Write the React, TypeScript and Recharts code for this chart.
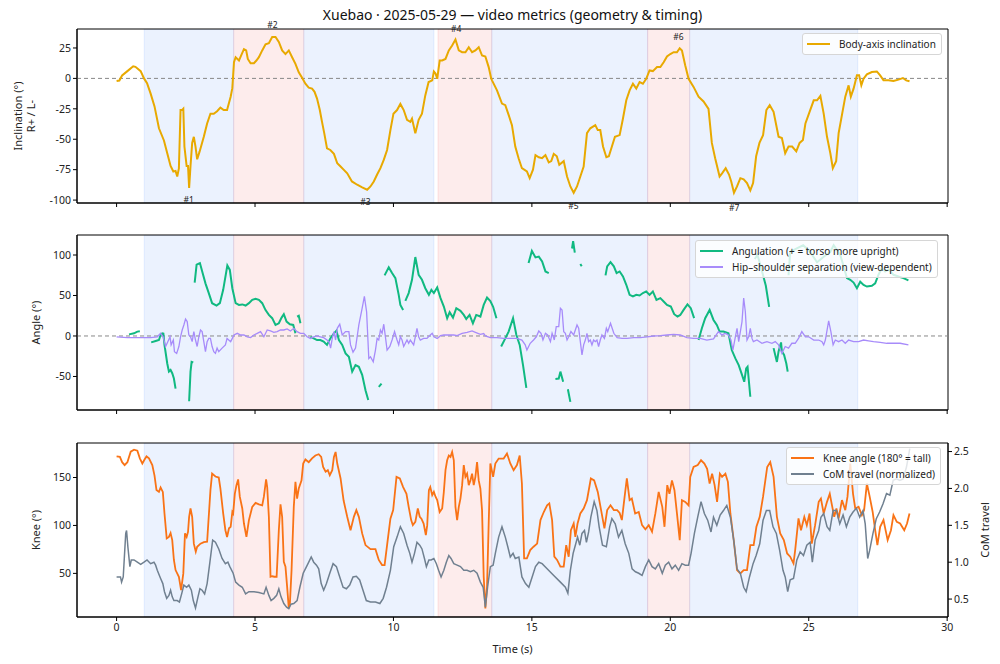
import React from 'react';
import { LineChart, Line, XAxis, YAxis, ReferenceArea, ReferenceLine, ReferenceDot, Label } from 'recharts';

type Pt = [number, number | null];

// Body-axis inclination (deg), [time s, value]
const inclination: Pt[] = [
  [0, -2.2], [0.1, -1.8], [0.2, 2.5], [0.39, 6], [0.6, 10], [0.68, 9.5], [0.87, 6], [0.99, 0], [1.1, -4], [1.23, -12.5],
  [1.37, -23], [1.53, -41], [1.71, -51], [1.83, -61.5], [1.95, -72], [2.05, -76.5], [2.13, -76], [2.19, -80.6], [2.25, -74],
  [2.31, -26], [2.37, -26], [2.41, -25], [2.45, -56], [2.53, -72], [2.58, -72], [2.62, -90], [2.67, -72], [2.73, -53],
  [2.79, -48], [2.85, -56], [2.91, -66.5], [3.0, -60], [3.15, -48], [3.27, -37], [3.39, -29], [3.51, -29], [3.63, -27],
  [3.75, -24], [3.87, -26], [3.99, -26], [4.12, -15], [4.18, -8], [4.24, 13.3], [4.3, 17.4], [4.42, 14.7], [4.5, 19],
  [4.6, 24], [4.68, 23], [4.74, 16], [4.84, 12.5], [4.96, 12.5], [5.05, 14.7], [5.14, 17.4], [5.26, 23], [5.38, 28],
  [5.5, 29], [5.62, 34], [5.74, 34], [5.86, 30], [5.98, 23], [6.1, 20], [6.22, 23], [6.34, 17.4], [6.46, 12], [6.58, 5],
  [6.7, 0.5], [6.82, -4.4], [6.94, -7.6], [7.06, -8.4], [7.15, -11], [7.24, -16.6], [7.34, -26], [7.42, -35.7], [7.5, -45],
  [7.6, -57.5], [7.72, -58.8], [7.85, -62], [7.97, -69.7], [8.09, -72.4], [8.2, -75], [8.33, -78], [8.5, -84.7],
  [8.69, -87.4], [8.87, -89.6], [9.05, -91.5], [9.17, -88.8], [9.29, -84.7], [9.41, -79], [9.53, -73.8], [9.65, -67],
  [9.77, -58.8], [9.89, -42.5], [10.0, -29], [10.13, -26], [10.25, -21], [10.37, -26], [10.49, -34], [10.61, -35.7],
  [10.67, -33], [10.79, -45], [10.91, -34], [11.03, -29], [11.15, -14], [11.27, -3], [11.4, -1.6], [11.46, 5.7],
  [11.52, 4], [11.58, -0.3], [11.67, 14.7], [11.76, 14.7], [11.88, 16], [12.0, 23], [12.12, 27], [12.24, 32], [12.36, 23],
  [12.48, 21.5], [12.6, 21.5], [12.72, 25.6], [12.84, 21.5], [12.96, 23], [13.08, 25.6], [13.2, 18.8], [13.32, 18],
  [13.44, 9.3], [13.53, 0], [13.56, -1.6], [13.74, -9.8], [13.92, -20.7], [14.04, -22], [14.16, -30], [14.28, -38.4],
  [14.4, -56], [14.52, -65.6], [14.64, -73.8], [14.82, -76.5], [14.92, -82], [15.04, -75], [15.13, -63], [15.25, -64.8],
  [15.37, -65.5], [15.49, -63], [15.61, -69], [15.7, -68], [15.79, -62], [15.9, -64], [15.99, -71], [16.15, -68],
  [16.27, -80.6], [16.39, -88.8], [16.51, -94], [16.63, -88.8], [16.75, -80.6], [16.87, -72.4], [16.99, -45], [17.11, -41],
  [17.29, -38.4], [17.38, -42.5], [17.47, -42.5], [17.57, -56], [17.69, -64.8], [17.78, -64], [17.89, -56], [18.0, -48],
  [18.17, -46.6], [18.29, -33], [18.41, -18], [18.53, -9.8], [18.65, -4.4], [18.77, -8.4], [18.89, -3], [19.01, -4.4],
  [19.13, -0.3], [19.25, 6.5], [19.37, 6], [19.52, 9.3], [19.64, 9.3], [19.76, 13.3], [19.88, 18], [20.0, 20],
  [20.12, 21.5], [20.24, 21.5], [20.34, 24.8], [20.42, 23], [20.54, 10.6], [20.66, -0.3], [20.84, -7], [21.02, -15],
  [21.2, -19], [21.38, -25], [21.5, -53], [21.62, -65.6], [21.78, -80.6], [21.87, -78], [22.0, -73.8], [22.12, -79],
  [22.2, -84.7], [22.3, -94], [22.41, -88.8], [22.53, -82], [22.65, -83], [22.77, -86], [22.89, -92], [22.99, -86],
  [23.1, -64], [23.22, -53], [23.35, -46.6], [23.47, -26], [23.59, -22], [23.73, -27.5], [23.91, -48], [24.03, -49],
  [24.15, -61.5], [24.27, -56], [24.4, -56], [24.55, -60], [24.67, -53], [24.79, -50.6], [24.88, -37], [25.03, -27.5],
  [25.18, -18], [25.3, -18], [25.42, -14.4], [25.54, -29], [25.66, -48], [25.78, -61.5], [25.87, -73.8], [25.99, -68],
  [26.08, -45], [26.2, -30], [26.32, -15], [26.44, -5.7], [26.52, -15], [26.62, -8.4], [26.74, 2.5], [26.82, 2.5],
  [26.9, -5.7], [26.98, -0.3], [27.1, 3.3], [27.28, 5.2], [27.46, 5.7], [27.58, 2.5], [27.7, -1.6], [27.88, -1.6],
  [28.06, -2.2], [28.24, -1], [28.4, 0.3], [28.52, -1.6], [28.64, -2.4],
];

// Angulation (deg); null = no detection
const angulation: Pt[] = [
  [0.45, 2], [0.63, 3.3], [0.75, 5.4], [0.84, 5.8], [0.9, null],
  [1.25, -7.9], [1.41, -6.2], [1.53, -5], [1.59, 1.2], [1.65, 3.3], [1.69, 3], [1.73, -11], [1.83, -34], [1.89, -44],
  [1.95, -42], [2.01, -46], [2.07, -52.5], [2.13, -65], [2.3, null],
  [2.62, -80.6], [2.67, -44], [2.71, -32], [2.77, -32.6], [2.8, null],
  [2.82, 66], [2.89, 88], [3.01, 90], [3.09, 80], [3.21, 65], [3.33, 53], [3.45, 40.5], [3.61, 37.6], [3.73, 40.5],
  [3.85, 57], [4.0, 87], [4.09, 81.6], [4.18, 59], [4.3, 40.5], [4.42, 38.4], [4.54, 39], [4.66, 37.6], [4.78, 40.5],
  [4.9, 44.6], [5.02, 46], [5.14, 44.6], [5.26, 40.5], [5.38, 32], [5.5, 26], [5.62, 22], [5.74, 13.6], [5.86, 15.7],
  [5.96, 22.7], [6.04, 26.9], [6.14, 17.8], [6.26, 14.5], [6.38, 13.6], [6.46, 3.3], [6.49, null],
  [6.52, 24], [6.58, 25], [6.64, 15.7], [6.8, null],
  [7.0, -1], [7.12, -3], [7.24, -5], [7.36, -5], [7.48, -7], [7.6, -11], [7.72, -3], [7.85, 3.3], [7.94, 6.6], [8.03, -5],
  [8.15, -11], [8.27, -21.5], [8.39, -25.6], [8.51, -44], [8.63, -36], [8.75, -38], [8.87, -48], [8.99, -67], [9.09, -79],
  [9.3, null],
  [9.47, -62.8], [9.57, -58.7], [9.62, null],
  [9.68, 74.8], [9.83, 84.7], [9.95, 77.7], [10.07, 71.5], [10.19, 50.8], [10.25, 38.4], [10.35, 32.2], [10.39, null],
  [10.43, 43.4], [10.55, 53], [10.67, 69.4], [10.79, 97.5], [10.91, 75.6], [11.03, 69.4], [11.15, 59], [11.28, 50.8],
  [11.37, 57], [11.46, 53], [11.58, 60], [11.7, 46.7], [11.82, 36.4], [11.94, 21.9], [12.03, 29.3], [12.15, 22.7],
  [12.27, 34.3], [12.42, 31], [12.54, 26], [12.63, 21], [12.75, 26], [12.87, 15.7], [12.99, 26], [13.14, 24],
  [13.26, 38.4], [13.38, 47.5], [13.5, 43], [13.6, 36], [13.72, 22], [13.8, null],
  [13.89, -13], [14.04, -3], [14.16, 5.4], [14.32, 22], [14.44, 1.2], [14.56, -11], [14.68, -36], [14.8, -64], [14.84, null],
  [14.88, 90], [15.0, 105], [15.13, 97], [15.25, 98], [15.37, 92], [15.49, 79.7], [15.61, 77.7], [15.7, null],
  [15.85, -53], [15.97, -52.5], [16.03, -44], [16.13, -56.6], [16.2, null],
  [16.3, -65.7], [16.39, -81.4], [16.42, null],
  [16.45, 108], [16.49, 117], [16.55, 103], [16.6, null],
  [16.75, 89], [16.8, 86], [16.85, null],
  [17.66, 74.8], [17.72, 86], [17.84, 91.3], [17.96, 86], [18.06, 77.7], [18.17, 79.7], [18.29, 73.5], [18.41, 63.2],
  [18.53, 50.8], [18.65, 48.8], [18.77, 50.8], [18.89, 50], [19.01, 53], [19.13, 55], [19.25, 50.8], [19.37, 55],
  [19.5, 44.6], [19.64, 46.7], [19.76, 42.6], [19.88, 38.4], [20.02, 36.4], [20.14, 26.9], [20.26, 24], [20.36, 26],
  [20.48, 32.2], [20.62, 39], [20.74, 34.3], [20.86, 22], [20.94, null],
  [21.02, -5], [21.14, 9.5], [21.26, 22], [21.42, 32.2], [21.56, 19.8], [21.68, 13.6], [21.78, 5.4], [21.92, 5.4],
  [22.1, 3.3], [22.22, -17.4], [22.35, -27.7], [22.47, -36], [22.59, -48], [22.67, -56.6], [22.74, -40], [22.79, -38],
  [22.89, -75], [22.97, null],
  [23.05, 95], [23.15, 100], [23.25, 88], [23.35, 75], [23.45, 62], [23.57, 36], [23.65, null],
  [23.73, -15], [23.85, -32], [23.91, -19], [24.0, -8], [24.03, -19], [24.11, -23.5], [24.19, -34], [24.24, -44], [24.255, null],
  [24.27, 75], [24.33, 104], [24.55, 108], [24.8, 112], [25.05, 104], [25.3, 91], [25.53, 97.5], [25.78, 104], [25.9, 112],
  [26.14, 100], [26.38, 71.5], [26.5, 69.4], [26.62, 66], [26.74, 59], [26.86, 67], [26.98, 63], [27.1, 61], [27.28, 62],
  [27.4, 65], [27.52, 75.6], [27.64, 84], [27.76, 79.7], [27.88, 82], [28.06, 75.6], [28.24, 73.5], [28.42, 71.5], [28.6, 68.6],
];

// Hip-shoulder separation (deg)
const hipShoulder: Pt[] = [
  [0, -1], [0.39, -2], [0.87, -2], [1.23, -2], [1.47, -1], [1.59, 3.3], [1.68, -1], [1.77, -13], [1.85, -7], [1.93, -1],
  [1.97, -11], [2.05, -5], [2.09, -19.4], [2.17, -21.5], [2.25, -13], [2.31, -1], [2.37, 7.4], [2.43, 13.6], [2.49, 21],
  [2.55, 17.8], [2.61, 1.2], [2.67, -1], [2.73, -7], [2.79, 5.4], [2.85, -5], [2.91, -13], [2.97, -1], [3.03, 7.4],
  [3.09, 5.4], [3.15, -7], [3.21, -19.4], [3.27, -7], [3.33, -3], [3.39, -3], [3.45, -13], [3.51, -19.4], [3.57, -21.5],
  [3.63, -15], [3.69, -19.4], [3.81, -15], [3.93, -11], [3.99, -3], [4.12, -7], [4.18, -3], [4.24, 1.2], [4.36, 3.3],
  [4.48, 1.2], [4.6, 1.2], [4.72, -1], [4.84, -2], [4.96, 1.2], [5.08, 3.3], [5.2, 5.4], [5.32, -1], [5.44, 7.4],
  [5.56, 6.2], [5.68, 4.5], [5.8, 5.4], [5.92, 7.4], [6.04, 7.4], [6.16, 8.7], [6.28, 6.2], [6.4, 9.5], [6.52, 5.4],
  [6.64, 3.3], [6.76, 3.3], [6.88, -1], [7.0, -3], [7.12, -1], [7.24, 0], [7.36, -1], [7.48, -2], [7.6, -5], [7.67, -7],
  [7.73, -15], [7.79, -3], [7.85, 5.4], [7.91, -5], [7.97, 9.5], [8.06, 14.5], [8.15, 1.2], [8.27, 5.4], [8.39, 5.4],
  [8.45, -11], [8.54, -20], [8.63, -15], [8.75, 13.6], [8.87, 34.3], [8.95, 48.8], [9.03, 30], [9.11, -27.7],
  [9.17, -25.6], [9.27, -31.8], [9.35, -17.4], [9.41, -3], [9.47, -5], [9.53, 7.4], [9.59, 3.3], [9.65, 14.5],
  [9.71, -1], [9.77, -17.4], [9.87, -13], [9.95, -5], [10.04, 5.4], [10.13, -5], [10.19, -11], [10.25, -1], [10.31, -5],
  [10.37, -13], [10.49, -5], [10.55, -9], [10.61, -5], [10.73, -11], [10.79, -1], [10.85, 9.5], [10.91, -1], [10.97, -5],
  [11.09, -3], [11.21, -3], [11.33, 1.2], [11.4, 3.3], [11.46, -1], [11.58, -3], [11.7, 0.4], [11.82, 1.2], [12.0, 1.2],
  [12.18, 1.2], [12.3, 0.4], [12.48, 3.3], [12.66, 4.5], [12.84, 6.2], [12.96, 4.5], [13.14, 2], [13.26, 3], [13.32, 0],
  [13.5, -2], [13.74, -2], [13.98, -3], [14.22, -3], [14.46, -3], [14.64, -5], [14.76, -11], [14.82, -17.4], [14.94, -9],
  [15.06, -5], [15.16, -1], [15.25, 6.2], [15.33, 3.3], [15.4, -5], [15.49, 3.3], [15.57, 1.2], [15.67, -7], [15.73, 3.3],
  [15.81, -5], [15.88, 11.6], [15.97, 11.6], [16.03, 34.3], [16.09, 32], [16.15, 5.4], [16.21, 3.3], [16.27, -5],
  [16.33, -1], [16.41, 5.4], [16.51, 1.2], [16.63, 13.6], [16.69, 9.5], [16.75, -7], [16.81, -23.5], [16.87, -11],
  [16.93, -5], [16.99, 3.3], [17.05, -7], [17.11, -5], [17.17, -11], [17.23, -5], [17.29, -7], [17.35, -5], [17.41, -13],
  [17.47, -5], [17.53, 1.2], [17.62, -3], [17.69, 9.5], [17.74, 5.4], [17.84, 15.7], [17.9, 9.5], [17.96, 3.3],
  [18.08, -2], [18.26, -3], [18.44, -3], [18.68, -2], [18.92, -2], [19.16, -1], [19.4, 0], [19.64, 0.4], [19.88, 1.2],
  [20.12, 2], [20.36, 1.2], [20.6, -2], [20.84, -3], [21.08, -3], [21.32, -5], [21.56, -3.7], [21.74, 5.4], [21.86, 1.2],
  [21.98, 3.3], [22.1, 1.2], [22.19, -5], [22.26, -17.4], [22.35, -1], [22.41, 9.5], [22.47, -7], [22.53, 5.4],
  [22.59, 17.8], [22.65, 46.7], [22.71, 30], [22.77, -5], [22.83, -1], [22.89, 9.5], [22.95, -3], [23.0, -7], [23.13, -5],
  [23.31, -9], [23.49, -7], [23.67, -9], [23.79, -7], [23.91, -11], [24.03, -21.5], [24.15, -13], [24.27, -15],
  [24.39, -9], [24.51, -9], [24.63, -3], [24.75, 5.4], [24.88, -1], [25.0, -1], [25.18, -5], [25.36, -5], [25.48, -7],
  [25.54, -11], [25.6, -5], [25.72, 18.6], [25.8, 5.4], [25.88, -11], [25.96, -5], [26.08, -7], [26.2, -5], [26.32, -9],
  [26.44, -5], [26.62, -7], [26.8, -7], [26.98, -5], [27.16, -6], [27.34, -7], [27.58, -7.8], [27.82, -9], [28.06, -9],
  [28.3, -9], [28.6, -11],
];

// Knee angle (deg)
const knee: Pt[] = [
  [0, 172], [0.12, 171.5], [0.2, 166], [0.29, 163], [0.39, 166], [0.51, 177], [0.63, 179], [0.75, 178], [0.84, 170],
  [0.93, 164.6], [1.01, 168.8], [1.08, 172], [1.17, 170], [1.29, 163], [1.37, 152], [1.44, 137], [1.53, 135],
  [1.59, 139.6], [1.67, 135], [1.73, 112.5], [1.81, 86.5], [1.89, 88], [1.95, 92], [2.01, 84.7], [2.07, 64], [2.13, 53.5],
  [2.25, 46.5], [2.33, 32.6], [2.41, 50], [2.47, 91.7], [2.53, 88], [2.58, 93.4], [2.62, 109], [2.67, 117.7], [2.73, 109],
  [2.79, 81], [2.86, 72.6], [2.91, 77.8], [3.03, 81], [3.15, 82.6], [3.27, 83], [3.39, 136.8], [3.45, 154], [3.57, 151],
  [3.69, 150], [3.75, 138.5], [3.85, 112.5], [3.93, 95], [3.99, 88], [4.06, 97], [4.12, 98.6], [4.18, 114], [4.21, 112.5],
  [4.27, 133], [4.33, 142], [4.39, 148], [4.45, 130], [4.54, 117.7], [4.6, 102], [4.69, 88], [4.78, 105.6], [4.9, 119.4],
  [5.02, 123.6], [5.14, 122], [5.26, 121], [5.32, 130], [5.4, 148], [5.44, 140], [5.5, 109], [5.56, 46.5], [5.62, 47],
  [5.7, 46.5], [5.78, 46.5], [5.86, 95], [5.92, 122], [5.98, 109], [6.04, 62], [6.1, 57], [6.16, 36], [6.22, 13.5],
  [6.26, 18.8], [6.32, 53.5], [6.4, 119.4], [6.46, 145.5], [6.52, 128], [6.58, 138.5], [6.68, 147], [6.74, 164.6],
  [6.82, 168.8], [6.94, 166], [7.06, 170], [7.18, 173], [7.3, 174.3], [7.39, 171.5], [7.46, 161], [7.55, 156],
  [7.63, 157.6], [7.7, 152.4], [7.79, 157.6], [7.85, 171.5], [7.91, 176.7], [7.97, 164.6], [8.09, 149], [8.2, 126],
  [8.33, 109], [8.45, 95], [8.57, 109], [8.66, 116], [8.75, 109], [8.87, 91.7], [8.99, 79.5], [9.17, 75.3], [9.35, 75.3],
  [9.47, 64], [9.59, 58.7], [9.68, 58.7], [9.77, 79.5], [9.89, 107], [9.99, 116], [10.11, 150.7], [10.23, 149],
  [10.35, 140], [10.47, 133], [10.55, 119.4], [10.64, 105.6], [10.7, 100.3], [10.79, 103.8], [10.88, 117.7], [10.95, 109],
  [11.01, 107], [11.09, 102], [11.17, 90], [11.22, 100.3], [11.28, 136.8], [11.33, 140], [11.4, 131.6], [11.46, 135],
  [11.52, 130], [11.58, 126.4], [11.67, 114], [11.76, 117.7], [11.82, 135], [11.88, 157.6], [11.94, 168], [12.0, 173],
  [12.06, 171.5], [12.12, 176.7], [12.18, 168], [12.24, 119.4], [12.3, 105.6], [12.36, 119.4], [12.42, 128], [12.48, 142],
  [12.54, 163], [12.6, 150.7], [12.66, 154], [12.72, 142], [12.78, 147], [12.84, 154], [12.9, 142], [12.96, 150.7],
  [13.02, 166], [13.08, 147], [13.14, 138.5], [13.2, 116], [13.26, 46.5], [13.32, 13.5], [13.38, 36], [13.44, 102],
  [13.5, 164.6], [13.6, 150.7], [13.68, 164.6], [13.8, 169.8], [13.98, 169.8], [14.1, 175], [14.22, 164.6], [14.34, 157.6],
  [14.46, 163], [14.56, 173], [14.64, 143.7], [14.72, 65.6], [14.82, 65.6], [14.94, 74.3], [15.06, 77.8], [15.19, 81],
  [15.31, 105.6], [15.43, 114], [15.55, 121], [15.63, 123], [15.73, 105.6], [15.81, 67.4], [15.91, 64], [16.03, 57],
  [16.15, 57], [16.24, 79.5], [16.33, 67.4], [16.41, 95], [16.51, 102], [16.57, 88], [16.65, 102], [16.75, 112.5],
  [16.87, 117.7], [16.99, 126.4], [17.13, 149], [17.25, 147], [17.38, 135], [17.5, 116], [17.62, 97], [17.72, 116],
  [17.84, 121], [17.96, 116], [18.08, 116], [18.17, 113], [18.25, 105.6], [18.35, 130], [18.43, 149], [18.53, 126.4],
  [18.61, 128], [18.73, 112.5], [18.86, 114], [18.98, 100.3], [19.1, 96], [19.22, 100.3], [19.34, 93.4], [19.46, 112.5],
  [19.58, 135], [19.71, 119.4], [19.79, 98.6], [19.89, 142], [19.97, 133], [20.06, 147], [20.15, 136.8], [20.24, 112.5],
  [20.34, 84.7], [20.42, 126.4], [20.54, 124.6], [20.66, 121], [20.72, 150.7], [20.84, 161], [20.99, 163], [21.11, 168],
  [21.23, 164.6], [21.33, 159], [21.42, 143.7], [21.51, 154], [21.6, 142], [21.69, 124.6], [21.79, 154], [21.87, 150.7],
  [21.99, 154], [22.08, 145.5], [22.17, 112.5], [22.29, 84.7], [22.41, 53.5], [22.53, 50], [22.65, 53.5], [22.77, 53.5],
  [22.89, 79.5], [23.01, 79.5], [23.11, 98.6], [23.23, 109], [23.35, 130], [23.5, 161], [23.61, 166], [23.73, 150.7],
  [23.85, 109], [23.97, 91.7], [24.1, 84.7], [24.22, 70.8], [24.33, 67.4], [24.45, 60.4], [24.51, 74.3], [24.63, 107.3],
  [24.72, 95], [24.84, 109], [24.93, 100.3], [25.03, 112.5], [25.11, 81], [25.23, 100.3], [25.36, 124.6], [25.44, 128],
  [25.54, 112.5], [25.66, 124.6], [25.76, 133], [25.84, 121], [25.92, 109], [26.0, 117.7], [26.08, 107.3], [26.2, 126.4],
  [26.32, 116], [26.4, 130], [26.5, 164.6], [26.6, 133], [26.68, 117.7], [26.8, 119.4], [26.92, 110.8], [27.0, 116],
  [27.1, 143.7], [27.19, 131.6], [27.31, 114], [27.4, 95], [27.48, 79.5], [27.58, 98.6], [27.7, 105.6], [27.85, 84.7],
  [27.97, 95], [28.06, 110.8], [28.18, 103.8], [28.3, 102], [28.45, 95], [28.55, 102], [28.64, 112.5],
];

// Centre-of-mass travel (normalized)
const comTravel: Pt[] = [
  [0, 0.8], [0.14, 0.8], [0.18, 0.73], [0.24, 0.8], [0.33, 1.39], [0.36, 1.43], [0.41, 1.2], [0.48, 0.94], [0.53, 1.03],
  [0.63, 1.03], [0.75, 1.0], [0.87, 0.97], [0.99, 1.0], [1.1, 1.03], [1.23, 0.98], [1.35, 1.0], [1.41, 0.96], [1.47, 0.89],
  [1.59, 0.78], [1.67, 0.71], [1.73, 0.6], [1.81, 0.51], [1.89, 0.55], [1.95, 0.62], [2.01, 0.53], [2.07, 0.48],
  [2.19, 0.48], [2.27, 0.46], [2.35, 0.57], [2.43, 0.69], [2.53, 0.66], [2.61, 0.69], [2.7, 0.62], [2.77, 0.48],
  [2.85, 0.38], [2.94, 0.53], [3.01, 0.64], [3.09, 0.62], [3.18, 0.57], [3.27, 0.71], [3.37, 1.0], [3.47, 1.3],
  [3.57, 1.27], [3.69, 1.18], [3.81, 1.05], [3.93, 0.98], [4.02, 1.0], [4.09, 0.94], [4.21, 0.85], [4.3, 0.73],
  [4.42, 0.69], [4.54, 0.66], [4.66, 0.57], [4.78, 0.6], [4.96, 0.6], [5.14, 0.59], [5.32, 0.57], [5.4, 0.66], [5.5, 0.55],
  [5.58, 0.48], [5.68, 0.51], [5.78, 0.55], [5.86, 0.64], [5.94, 0.53], [6.04, 0.44], [6.14, 0.39], [6.22, 0.37],
  [6.3, 0.43], [6.4, 0.44], [6.52, 0.48], [6.62, 0.66], [6.74, 0.85], [6.86, 0.94], [6.94, 1.0], [7.03, 1.07], [7.12, 1.0],
  [7.22, 0.96], [7.3, 0.91], [7.39, 0.71], [7.48, 0.62], [7.58, 0.71], [7.7, 0.85], [7.82, 0.98], [7.94, 0.94], [8.06, 0.8],
  [8.18, 0.66], [8.3, 0.64], [8.42, 0.69], [8.54, 0.8], [8.66, 0.81], [8.78, 0.76], [8.9, 0.62], [9.02, 0.48], [9.17, 0.46],
  [9.35, 0.46], [9.51, 0.44], [9.63, 0.51], [9.75, 0.66], [9.89, 0.89], [10.01, 1.21], [10.13, 1.34], [10.25, 1.48],
  [10.37, 1.39], [10.49, 1.23], [10.59, 1.12], [10.67, 1.0], [10.76, 1.12], [10.85, 1.27], [10.95, 1.23], [11.03, 1.18],
  [11.12, 1.05], [11.19, 0.94], [11.28, 1.03], [11.36, 1.03], [11.46, 1.05], [11.55, 0.98], [11.63, 0.89], [11.72, 0.8],
  [11.82, 0.89], [11.91, 1.0], [12.0, 1.09], [12.08, 1.05], [12.18, 0.98], [12.3, 0.96], [12.42, 0.94], [12.54, 0.89],
  [12.66, 0.89], [12.78, 0.87], [12.9, 0.89], [13.02, 0.85], [13.14, 0.73], [13.24, 0.66], [13.32, 0.39], [13.4, 0.66],
  [13.5, 0.94], [13.6, 0.96], [13.68, 1.12], [13.8, 1.34], [13.92, 1.48], [14.04, 1.34], [14.13, 1.21], [14.22, 1.07],
  [14.32, 1.12], [14.4, 1.05], [14.53, 1.07], [14.64, 0.8], [14.77, 0.71], [14.89, 0.66], [15.01, 0.8], [15.13, 0.94],
  [15.25, 1.0], [15.37, 0.98], [15.55, 0.91], [15.79, 0.82], [16.03, 0.73], [16.21, 0.66], [16.3, 0.58], [16.39, 0.89],
  [16.49, 1.12], [16.57, 1.23], [16.65, 1.34], [16.73, 1.23], [16.81, 1.39], [16.9, 1.43], [16.97, 1.27], [17.05, 1.41],
  [17.13, 1.61], [17.25, 1.82], [17.35, 1.7], [17.43, 1.48], [17.55, 1.23], [17.69, 1.21], [17.81, 1.48], [17.89, 1.59],
  [18.01, 1.52], [18.13, 1.34], [18.25, 1.43], [18.37, 1.25], [18.5, 1.12], [18.62, 0.91], [18.74, 0.87], [18.86, 0.85],
  [18.98, 0.82], [19.1, 0.94], [19.22, 1.03], [19.34, 0.94], [19.46, 0.91], [19.58, 0.98], [19.71, 0.85], [19.82, 0.96],
  [19.94, 1.0], [20.06, 0.91], [20.18, 0.96], [20.3, 0.89], [20.42, 0.98], [20.54, 0.96], [20.66, 0.96], [20.75, 1.12],
  [20.87, 1.39], [20.99, 1.61], [21.11, 1.82], [21.23, 1.66], [21.35, 1.57], [21.47, 1.41], [21.56, 1.61], [21.68, 1.5],
  [21.8, 1.64], [21.92, 1.7], [22.04, 1.77], [22.17, 1.61], [22.29, 1.3], [22.41, 0.91], [22.53, 0.85], [22.65, 0.66],
  [22.74, 0.6], [22.86, 0.8], [22.99, 0.98], [23.1, 1.09], [23.23, 1.25], [23.35, 1.57], [23.47, 1.7], [23.59, 1.7],
  [23.71, 1.48], [23.83, 1.39], [23.95, 1.16], [24.07, 0.89], [24.15, 0.8], [24.24, 0.6], [24.33, 0.76], [24.45, 0.78],
  [24.57, 1.03], [24.69, 1.14], [24.81, 1.09], [24.93, 1.23], [25.05, 1.27], [25.13, 1.0], [25.23, 1.3], [25.36, 1.43],
  [25.44, 1.61], [25.54, 1.66], [25.66, 1.48], [25.76, 1.43], [25.88, 1.7], [26.0, 1.7], [26.12, 1.52], [26.24, 1.64],
  [26.36, 1.48], [26.48, 1.61], [26.6, 1.68], [26.72, 1.73], [26.84, 1.61], [26.96, 1.7], [27.04, 1.52], [27.13, 1.05],
  [27.2, 1.16], [27.32, 1.39], [27.44, 1.59], [27.56, 1.68], [27.68, 1.79], [27.81, 1.93], [27.93, 1.91], [28.05, 2.11],
  [28.17, 2.13], [28.29, 2.11], [28.41, 2.13], [28.53, 2.29], [28.65, 2.54],
];

// turn phases: [start s, end s, side]
const phases: [number, number, 'L' | 'R'][] = [
  [1.0, 4.23, 'L'], [4.23, 6.76, 'R'], [6.76, 11.46, 'L'], [11.61, 13.55, 'R'],
  [13.55, 19.18, 'L'], [19.18, 20.7, 'R'], [20.7, 26.77, 'L'],
];

// turn extremes: [time, inclination, label]
const turnPeaks: [number, number, string][] = [
  [2.6, -90, '#1'], [5.63, 34.3, '#2'], [8.99, -91.5, '#3'], [12.27, 31, '#4'],
  [16.5, -94.8, '#5'], [20.29, 24.5, '#6'], [22.31, -96.4, '#7'],
];

const xTicks = [0, 5, 10, 15, 20, 25, 30];
const X_DOMAIN: [number, number] = [-1.43, 30.03];
const FONT = '"Noto Sans", "DejaVu Sans", sans-serif';
const TICK = { fontSize: 10.5, fill: '#222' };

const toRows = (pts: Pt[]) => pts.map(([t, v]) => ({ t, v }));

const phaseAreas = (yAxisId?: string) =>
  phases.map(([a, b, side], i) => (
    <ReferenceArea
      key={'ph' + i}
      x1={a}
      x2={b}
      yAxisId={yAxisId}
      fill={side === 'L' ? '#3b82f6' : '#ef4444'}
      fillOpacity={0.1}
      stroke={side === 'L' ? '#3b82f6' : '#ef4444'}
      strokeOpacity={0.12}
      ifOverflow="hidden"
    />
  ));

const frame = (y: [number, number], yAxisId?: string) => (
  <ReferenceArea x1={X_DOMAIN[0]} x2={X_DOMAIN[1]} y1={y[0]} y2={y[1]} yAxisId={yAxisId}
    fill="none" stroke="#000" strokeWidth={1} ifOverflow="visible" />
);

const LegendBox = ({ items, top, left }: { items: { label: string; color: string; w: number }[]; top: number; left: number }) => (
  <div style={{
    position: 'absolute', top, left, background: 'rgba(255,255,255,0.8)', border: '1px solid #d6d6d6',
    borderRadius: 3, padding: '2px 5px 2px 4px', fontSize: 10, color: '#222', lineHeight: '16px',
  }}>
    {items.map((it) => (
      <div key={it.label} style={{ display: 'flex', alignItems: 'center', whiteSpace: 'nowrap' }}>
        <span style={{ display: 'inline-block', width: 23, height: it.w, background: it.color, marginRight: 9 }} />
        {it.label}
      </div>
    ))}
  </div>
);

const INC_Y: [number, number] = [-102.4, 40.6];
const ANG_Y: [number, number] = [-91.4, 124.7];
const KNEE_Y: [number, number] = [4.5, 186];
const COM_Y: [number, number] = [0.257, 2.616];

export default function App() {
  return (
    <div style={{ position: 'absolute', left: 0, top: 0, width: 1000, height: 664, background: '#fff', fontFamily: FONT }}>
      <div style={{ position: 'absolute', top: 5, left: 0, width: 1025, textAlign: 'center', fontSize: 14, color: '#111' }}>
        Xuebao · 2025-05-29 — video metrics (geometry &amp; timing)
      </div>

      {/* panel 1: inclination */}
      <div style={{ position: 'absolute', top: 0, left: 0 }}>
        <LineChart width={1000} height={215} margin={{ top: 29, right: 52, bottom: 4, left: 32 }}>
          <XAxis dataKey="t" type="number" domain={X_DOMAIN} ticks={xTicks} allowDataOverflow height={8}
            tickFormatter={() => ''} tickSize={4} stroke="#000" />
          <YAxis type="number" domain={INC_Y} ticks={[-100, -75, -50, -25, 0, 25]} allowDataOverflow width={45}
            tick={TICK} tickSize={4} tickMargin={2} stroke="#000">
            <Label value="Inclination (°)" angle={-90} position="center" dx={-36.5} style={{ fontSize: 11, fill: '#222' }} />
            <Label value="R+ / L-" angle={-90} position="center" dx={-23.5} style={{ fontSize: 11, fill: '#222' }} />
          </YAxis>
          {phaseAreas()}
          <ReferenceLine y={0} stroke="#888" strokeDasharray="4 3" strokeWidth={1} />
          <Line data={toRows(inclination)} dataKey="v" stroke="#e8a900" strokeWidth={2} dot={false}
            isAnimationActive={false} type="linear" />
          {turnPeaks.map(([t, v, name]) => (
            <ReferenceDot key={name} x={t} y={v} r={0} ifOverflow="visible"
              label={{ value: name, position: v < 0 ? 'bottom' : 'top', offset: 9, fontSize: 8.5, fill: '#222' }} />
          ))}
          {frame(INC_Y)}
        </LineChart>
      </div>
      <LegendBox top={33} left={802} items={[{ label: 'Body-axis inclination', color: '#e8a900', w: 2 }]} />

      {/* panel 2: angulation / separation */}
      <div style={{ position: 'absolute', top: 215, left: 0 }}>
        <LineChart width={1000} height={205} margin={{ top: 20, right: 52, bottom: 2, left: 32 }}>
          <XAxis dataKey="t" type="number" domain={X_DOMAIN} ticks={xTicks} allowDataOverflow height={8}
            tickFormatter={() => ''} tickSize={4} stroke="#000" />
          <YAxis type="number" domain={ANG_Y} ticks={[-50, 0, 50, 100]} allowDataOverflow width={45}
            tick={TICK} tickSize={4} tickMargin={2} stroke="#000">
            <Label value="Angle (°)" angle={-90} position="center" dx={-18.5} style={{ fontSize: 11, fill: '#222' }} />
          </YAxis>
          {phaseAreas()}
          <ReferenceLine y={0} stroke="#888" strokeDasharray="4 3" strokeWidth={1} />
          <Line data={toRows(angulation)} dataKey="v" stroke="#10b981" strokeWidth={2} dot={false}
            isAnimationActive={false} type="linear" connectNulls={false} />
          <Line data={toRows(hipShoulder)} dataKey="v" stroke="#a78bfa" strokeWidth={1.3} dot={false}
            isAnimationActive={false} type="linear" />
          {frame(ANG_Y)}
        </LineChart>
      </div>
      <LegendBox top={240} left={695} items={[
        { label: 'Angulation (+ = torso more upright)', color: '#10b981', w: 2 },
        { label: 'Hip–shoulder separation (view-dependent)', color: '#a78bfa', w: 1.5 },
      ]} />

      {/* panel 3: knee & CoM */}
      <div style={{ position: 'absolute', top: 420, left: 0 }}>
        <LineChart width={1000} height={244} margin={{ top: 23, right: 7, bottom: 7, left: 32 }}>
          <XAxis dataKey="t" type="number" domain={X_DOMAIN} ticks={xTicks} allowDataOverflow height={40}
            tick={TICK} tickSize={4} tickMargin={3} stroke="#000">
            <Label value="Time (s)" position="insideBottom" offset={4} style={{ fontSize: 11, fill: '#222' }} />
          </XAxis>
          <YAxis yAxisId="k" type="number" domain={KNEE_Y} ticks={[50, 100, 150]} allowDataOverflow width={45}
            tick={TICK} tickSize={4} tickMargin={2} stroke="#000">
            <Label value="Knee (°)" angle={-90} position="center" dx={-18.5} style={{ fontSize: 11, fill: '#222' }} />
          </YAxis>
          <YAxis yAxisId="c" orientation="right" type="number" domain={COM_Y} ticks={[0.5, 1.0, 1.5, 2.0, 2.5]}
            tickFormatter={(v: number) => v.toFixed(1)} allowDataOverflow width={45}
            tick={TICK} tickSize={4} tickMargin={2} stroke="#000">
            <Label value="CoM travel" angle={-90} position="center" dx={14.5} style={{ fontSize: 11, fill: '#222' }} />
          </YAxis>
          {phaseAreas('k')}
          <Line yAxisId="k" data={toRows(knee)} dataKey="v" stroke="#f97316" strokeWidth={1.8} dot={false}
            isAnimationActive={false} type="linear" />
          <Line yAxisId="c" data={toRows(comTravel)} dataKey="v" stroke="#708090" strokeWidth={1.5} dot={false}
            isAnimationActive={false} type="linear" />
          {frame(KNEE_Y, 'k')}
        </LineChart>
      </div>
      <LegendBox top={447} left={786} items={[
        { label: 'Knee angle (180° = tall)', color: '#f97316', w: 2 },
        { label: 'CoM travel (normalized)', color: '#708090', w: 2 },
      ]} />
    </div>
  );
}
